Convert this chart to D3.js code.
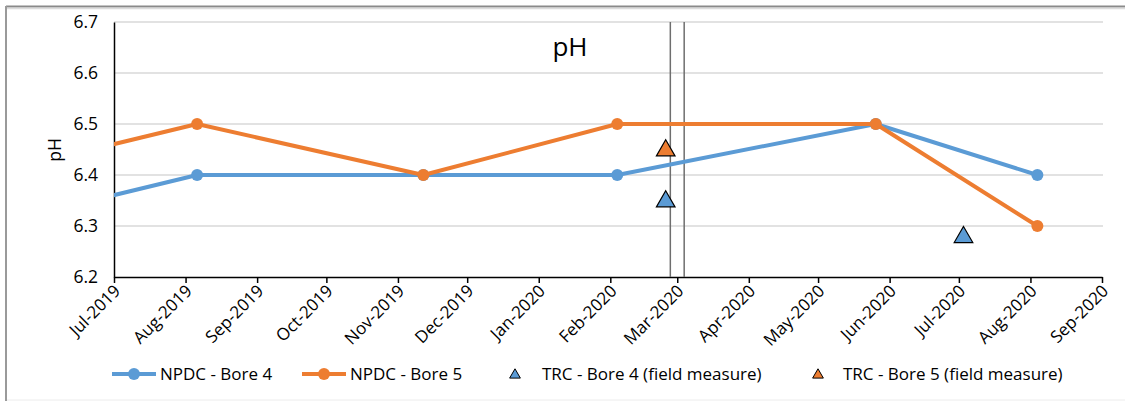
<!DOCTYPE html>
<html>
<head>
<meta charset="utf-8">
<script src="https://cdn.jsdelivr.net/npm/d3@7/dist/d3.min.js"></script>
<style>
  html, body { margin: 0; padding: 0; background: #fff; }
  svg { display: block; }
  svg text { font-family: "Open Sans", sans-serif; }
</style>
</head>
<body>
<svg id="chart" width="1125" height="401"></svg>
<script>
// NPDC lab results (bores 4 and 5), pH
const npdcDates = ["2019-05-07", "2019-08-06", "2019-11-12", "2020-02-04", "2020-05-26", "2020-08-04"];
const bore4Values = [6.3, 6.4, 6.4, 6.4, 6.5, 6.4];
const bore5Values = [6.4, 6.5, 6.4, 6.5, 6.5, 6.3];

// TRC field measurements
const trcBore4Dates = ["2020-02-25", "2020-07-03"];
const trcBore4Values = [6.35, 6.28];
const trcBore5Dates = ["2020-02-25"];
const trcBore5Values = [6.45];

// Vertical reference lines
const markerDates = ["2020-02-27", "2020-03-04"];

// Axis settings
const xDomain = ["2019-07-01", "2020-09-01"];
const yTicks = [6.2, 6.3, 6.4, 6.5, 6.6, 6.7];

const blue = "#5b9bd5", orange = "#ed7d31";
const parse = d3.utcParse("%Y-%m-%d");
const svg = d3.select("#chart");

// chart frame
svg.append("line").attr("x1", 6).attr("x2", 1125).attr("y1", 6.5).attr("y2", 6.5)
  .attr("stroke", "#8a8a8a").attr("stroke-width", 2);
svg.append("line").attr("x1", 7).attr("x2", 1125).attr("y1", 8.5).attr("y2", 8.5)
  .attr("stroke", "#dcdcdc").attr("stroke-width", 1.5);
svg.append("line").attr("x1", 6).attr("x2", 6).attr("y1", 6).attr("y2", 401)
  .attr("stroke", "#9a9a9a").attr("stroke-width", 2);
svg.append("line").attr("x1", 7).attr("x2", 1125).attr("y1", 400).attr("y2", 400)
  .attr("stroke", "#ececec").attr("stroke-width", 1);

const plotLeft = 114, plotRight = 1102, plotTop = 22, plotBottom = 277;

const x = d3.scaleUtc().domain(xDomain.map(parse)).range([plotLeft, plotRight]);
const y = d3.scaleLinear().domain([6.2, 6.7]).range([plotBottom, plotTop]);

// gridlines
svg.append("g").selectAll("line").data(yTicks.slice(1)).join("line")
  .attr("x1", plotLeft).attr("x2", plotRight + 1)
  .attr("y1", d => y(d)).attr("y2", d => y(d))
  .attr("stroke", "#d9d9d9").attr("stroke-width", 1.3);

// y axis
const yAxis = svg.append("g").attr("transform", `translate(${plotLeft},0)`)
  .call(d3.axisLeft(y).tickValues(yTicks).tickFormat(d3.format(".1f")).tickSize(0).tickPadding(16));
yAxis.attr("font-family", null);
yAxis.select(".domain").attr("stroke", "#000").attr("stroke-width", 1.5);
yAxis.selectAll("text").attr("font-size", 17.5).attr("fill", "#000");

// x axis
const monthTicks = d3.utcMonth.range(parse(xDomain[0]), d3.utcDay.offset(parse(xDomain[1]), 1));
const xAxis = svg.append("g").attr("transform", `translate(0,${plotBottom})`)
  .call(d3.axisBottom(x).tickValues(monthTicks).tickFormat(d3.utcFormat("%b-%Y")).tickSize(6).tickSizeOuter(0));
xAxis.attr("font-family", null);
xAxis.select(".domain").attr("stroke", "#000").attr("stroke-width", 1.5);
xAxis.selectAll(".tick line").attr("stroke", "#000").attr("stroke-width", 1.5);
xAxis.selectAll("text")
  .attr("font-size", 17).attr("fill", "#000")
  .attr("text-anchor", "end")
  .attr("dy", 0).attr("y", 0)
  .attr("transform", "translate(7,15) rotate(-45)");

// y axis title
svg.append("text").attr("transform", "translate(61,150) rotate(-90)")
  .attr("text-anchor", "middle").attr("font-size", 17.5).text("pH");

// chart title
svg.append("text").attr("x", 570).attr("y", 56).attr("text-anchor", "middle")
  .attr("font-size", 26).text("pH");

// vertical reference lines
svg.append("g").selectAll("line").data(markerDates.map(parse)).join("line")
  .attr("x1", d => x(d)).attr("x2", d => x(d))
  .attr("y1", plotTop).attr("y2", plotBottom)
  .attr("stroke", "#6e6e6e").attr("stroke-width", 1.5);

// clip series to plot area
svg.append("clipPath").attr("id", "plot").append("rect")
  .attr("x", plotLeft).attr("y", plotTop - 10).attr("width", plotRight - plotLeft + 10).attr("height", plotBottom - plotTop + 20);

const line = d3.line().x(d => x(d.date)).y(d => y(d.value));
function series(values, color) {
  const pts = npdcDates.map((d, i) => ({ date: parse(d), value: values[i] }));
  const g = svg.append("g").attr("clip-path", "url(#plot)");
  g.append("path").datum(pts).attr("d", line)
    .attr("fill", "none").attr("stroke", color).attr("stroke-width", 4).attr("stroke-linejoin", "round");
  g.selectAll("circle").data(pts.filter(p => p.date >= x.domain()[0])).join("circle")
    .attr("cx", d => x(d.date)).attr("cy", d => y(d.value)).attr("r", 6).attr("fill", color);
}
series(bore4Values, blue);
series(bore5Values, orange);

// triangles
const tri = d3.symbol().type(d3.symbolTriangle);
function triangles(dates, values, color, size) {
  svg.append("g").selectAll("path").data(dates.map((d, i) => ({ date: parse(d), value: values[i] }))).join("path")
    .attr("d", tri.size(size)())
    .attr("transform", d => `translate(${x(d.date)},${y(d.value) + 1})`)
    .attr("fill", color).attr("stroke", "#000").attr("stroke-width", 1.2);
}
triangles(trcBore4Dates, trcBore4Values, blue, 150);
triangles(trcBore5Dates, trcBore5Values, orange, 150);

// legend
const legend = svg.append("g").attr("font-size", 17);
const ly = 374;
[[112, blue, "NPDC - Bore 4"], [302, orange, "NPDC - Bore 5"]].forEach(([lx, c, t]) => {
  legend.append("line").attr("x1", lx).attr("x2", lx + 44).attr("y1", ly).attr("y2", ly)
    .attr("stroke", c).attr("stroke-width", 4);
  legend.append("circle").attr("cx", lx + 22).attr("cy", ly).attr("r", 6).attr("fill", c);
  legend.append("text").attr("x", lx + 48).attr("y", ly + 6).text(t);
});
[[515, blue, "TRC - Bore 4 (field measure)", 542], [818, orange, "TRC - Bore 5 (field measure)", 843]].forEach(([lx, c, t, tx]) => {
  legend.append("path").attr("d", d3.symbol().type(d3.symbolTriangle).size(50)())
    .attr("transform", `translate(${lx},${ly + 1})`)
    .attr("fill", c).attr("stroke", "#000").attr("stroke-width", 1);
  legend.append("text").attr("x", tx).attr("y", ly + 6).text(t);
});
</script>
</body>
</html>
